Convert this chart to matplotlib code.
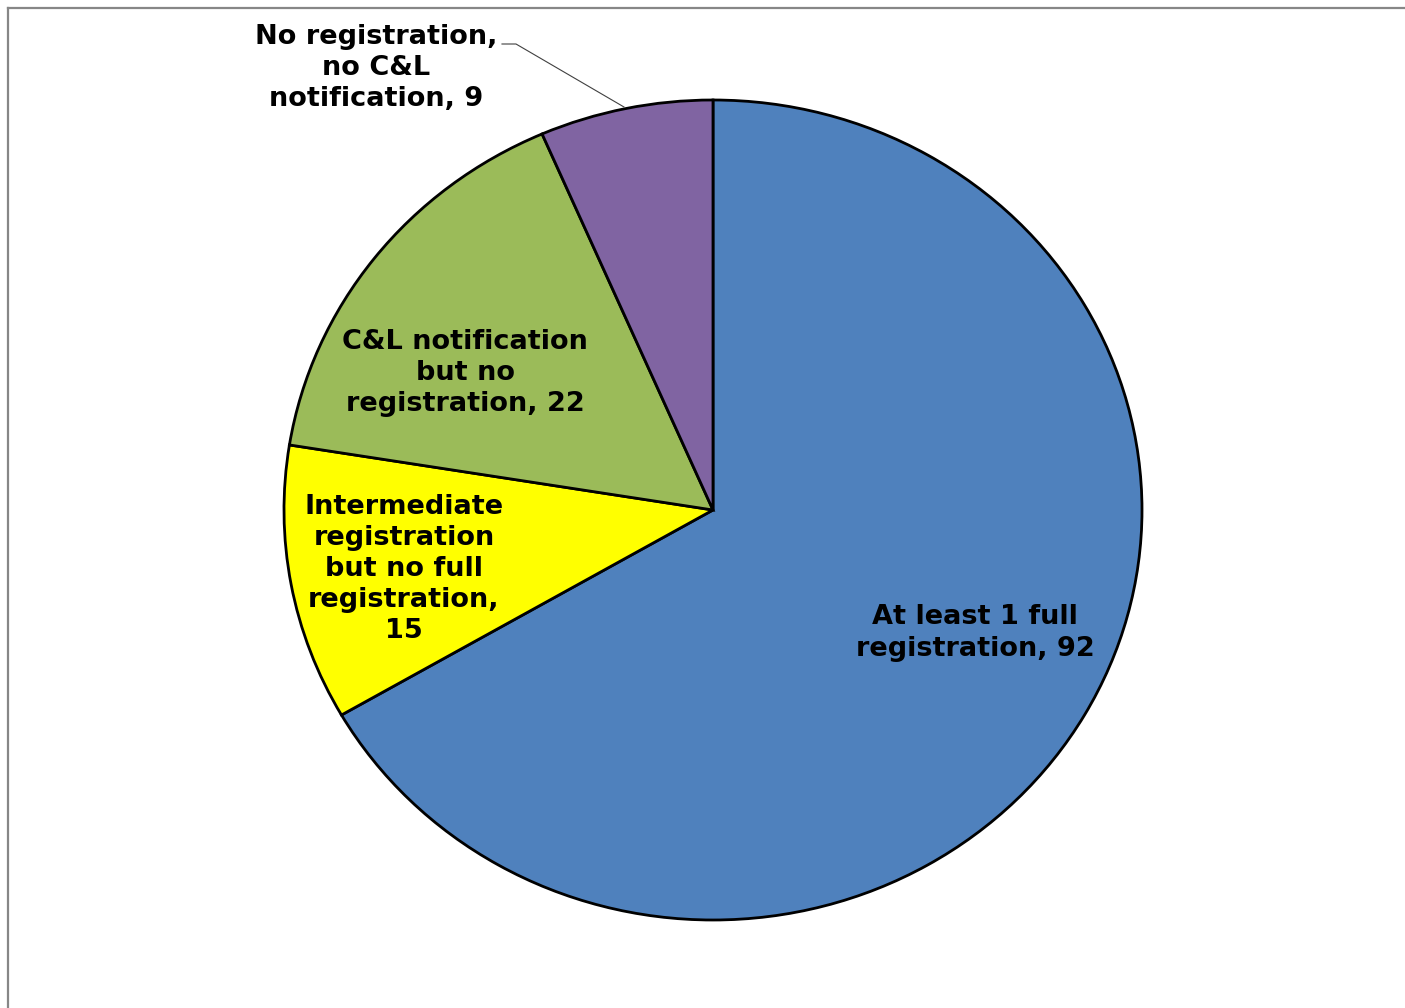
import matplotlib
matplotlib.use("Agg")
import matplotlib.pyplot as plt
from matplotlib.lines import Line2D

# slice data, clockwise from 12 o'clock
categories = [
    "At least 1 full\nregistration",
    "Intermediate\nregistration\nbut no full\nregistration,",
    "C&L notification\nbut no\nregistration",
    "No registration,\nno C&L\nnotification",
]
counts = [92, 15, 22, 9]
colors = ["#4F81BD", "#FFFF00", "#9BBB59", "#8064A2"]

W, H = 1405, 1008
fig = plt.figure(figsize=(W / 100, H / 100), dpi=100)

# pie centre (713, 510) px, radii 429 x 410 px
cx, cy, rx, ry = 713, 510, 429, 410
ax = fig.add_axes([(cx - rx) / W, (H - cy - ry) / H, 2 * rx / W, 2 * ry / H])

wedges, _ = ax.pie(counts, colors=colors, startangle=90, counterclock=False,
                   wedgeprops=dict(edgecolor="black", linewidth=2.0))
ax.set_aspect("auto")
ax.set_xlim(-1, 1)
ax.set_ylim(-1, 1)


def px(x, y):
    # pixel position -> data coords of the pie axes
    return (x - cx) / rx, (cy - y) / ry


label_pos = [(975, 633), (404, 569), (465, 373), (376, 68)]
for i, (name, n) in enumerate(zip(categories, counts)):
    sep = "\n" if name.endswith(",") else ", "
    text = f"{name}{sep}{n}"
    x, y = px(*label_pos[i])
    ax.text(x, y, text, ha="center", va="center", fontsize=19.5,
            fontweight="bold", family="DejaVu Sans", linespacing=1.25,
            clip_on=False)

# leader line for the small slice
x0, y0 = px(502, 44)
x1, y1 = px(516, 44)
x2, y2 = px(624, 107)
ax.plot([x0, x1, x2], [y0, y1, y2], color="#404040", lw=0.8, clip_on=False)

# chart-area frame, only top and left edges visible
fig.add_artist(Line2D([8 / W, 1], [1 - 8 / H, 1 - 8 / H], color="#878787", lw=1.6))
fig.add_artist(Line2D([8 / W, 8 / W], [0, 1 - 8 / H], color="#878787", lw=1.6))

fig.savefig("out.png", dpi=100, facecolor="white")
